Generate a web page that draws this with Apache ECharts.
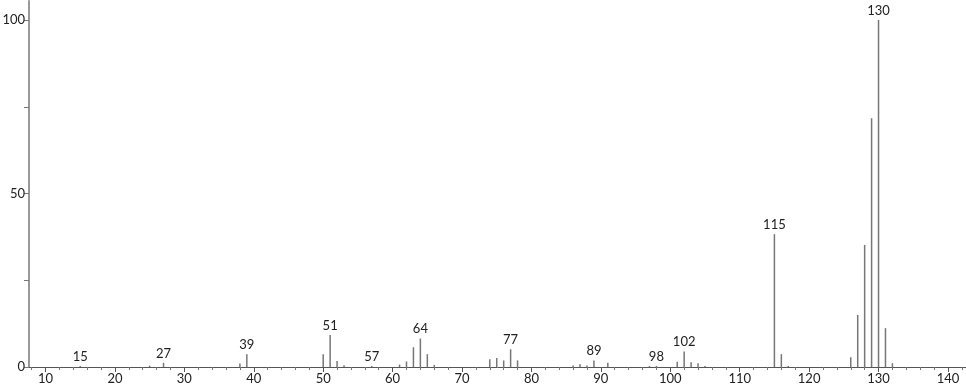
<!DOCTYPE html>
<html>
<head>
<meta charset="utf-8">
<script src="https://cdn.jsdelivr.net/npm/echarts@6/dist/echarts.min.js"></script>
<style>
html,body{margin:0;padding:0;background:#fff;}
#chart{width:966px;height:389px;}
</style>
</head>
<body>
<div id="chart"></div>
<script>
var mz =        [15, 25, 27, 38, 39, 50, 51, 52, 53, 57, 61, 62, 63, 64, 65, 66, 74, 75, 76, 77, 78, 86, 87, 88, 89, 91, 97, 98, 101, 102, 103, 104, 105, 115, 116, 117, 126, 127, 128, 129, 130, 131, 132];
var intensity = [0.3,0.4,1.2,1.0,3.7,3.7,9.2,1.7,0.5,0.3,0.7,1.6,5.7,8.2,3.7,0.6,2.2,2.6,1.9,5.1,1.9,0.4,0.8,0.4,1.9,1.2,0.3,0.3,1.5, 4.5, 1.4, 1.1, 0.3, 38.3,3.7, 0.3, 2.8, 15.0,35.2,71.7,100, 11.2,1.1];
var labeledPeaks = [15, 27, 39, 51, 57, 64, 77, 89, 98, 102, 115, 130];
var xMajorTicks = [10, 20, 30, 40, 50, 60, 70, 80, 90, 100, 110, 120, 130, 140];
var yTicks = [0, 25, 50, 75, 100];
var yLabels = [0, 50, 100];

var xMinor = [];
for (var v = 8; v <= 142; v += 2) { if (v % 10 !== 0) xMinor.push(v); }

var data = mz.map(function (m, i) {
  var item = { value: [m, intensity[i]] };
  if (labeledPeaks.indexOf(m) >= 0) {
    item.label = { show: true, formatter: String(m) };
  }
  return item;
});

var font = 'Lato, "DejaVu Sans", sans-serif';
var chart = echarts.init(document.getElementById('chart'));
chart.setOption({
  animation: false,
  grid: { left: 29, right: 0, top: 1, bottom: 22, outerBoundsMode: 'none', containLabel: false },
  xAxis: [{
    type: 'value', min: 7.62, max: 142.6,
    axisLine: { show: true, lineStyle: { color: '#555', width: 1 } },
    axisTick: { show: true, customValues: xMajorTicks, length: 5, lineStyle: { color: '#555' } },
    axisLabel: { customValues: xMajorTicks, color: '#222', fontSize: 13, fontFamily: font, margin: 5 },
    splitLine: { show: false }
  }, {
    type: 'value', min: 7.62, max: 142.6, position: 'bottom',
    axisLine: { show: false },
    axisTick: { show: true, customValues: xMinor, length: 3, lineStyle: { color: '#777' } },
    axisLabel: { show: false },
    splitLine: { show: false }
  }],
  yAxis: {
    type: 'value', min: 0, max: 105.5,
    axisLine: { show: true, lineStyle: { color: '#999', width: 2 } },
    axisTick: { show: true, customValues: yTicks, length: 5, lineStyle: { color: '#777' } },
    axisLabel: { customValues: yLabels, color: '#222', fontSize: 13, fontFamily: font, margin: 4 },
    splitLine: { show: false }
  },
  series: [{
    type: 'bar',
    xAxisIndex: 0,
    barWidth: 1.5,
    itemStyle: { color: '#777' },
    label: { show: false, position: 'top', distance: 3, color: '#222', fontSize: 13, fontFamily: font },
    data: data
  }]
});
</script>
</body>
</html>
